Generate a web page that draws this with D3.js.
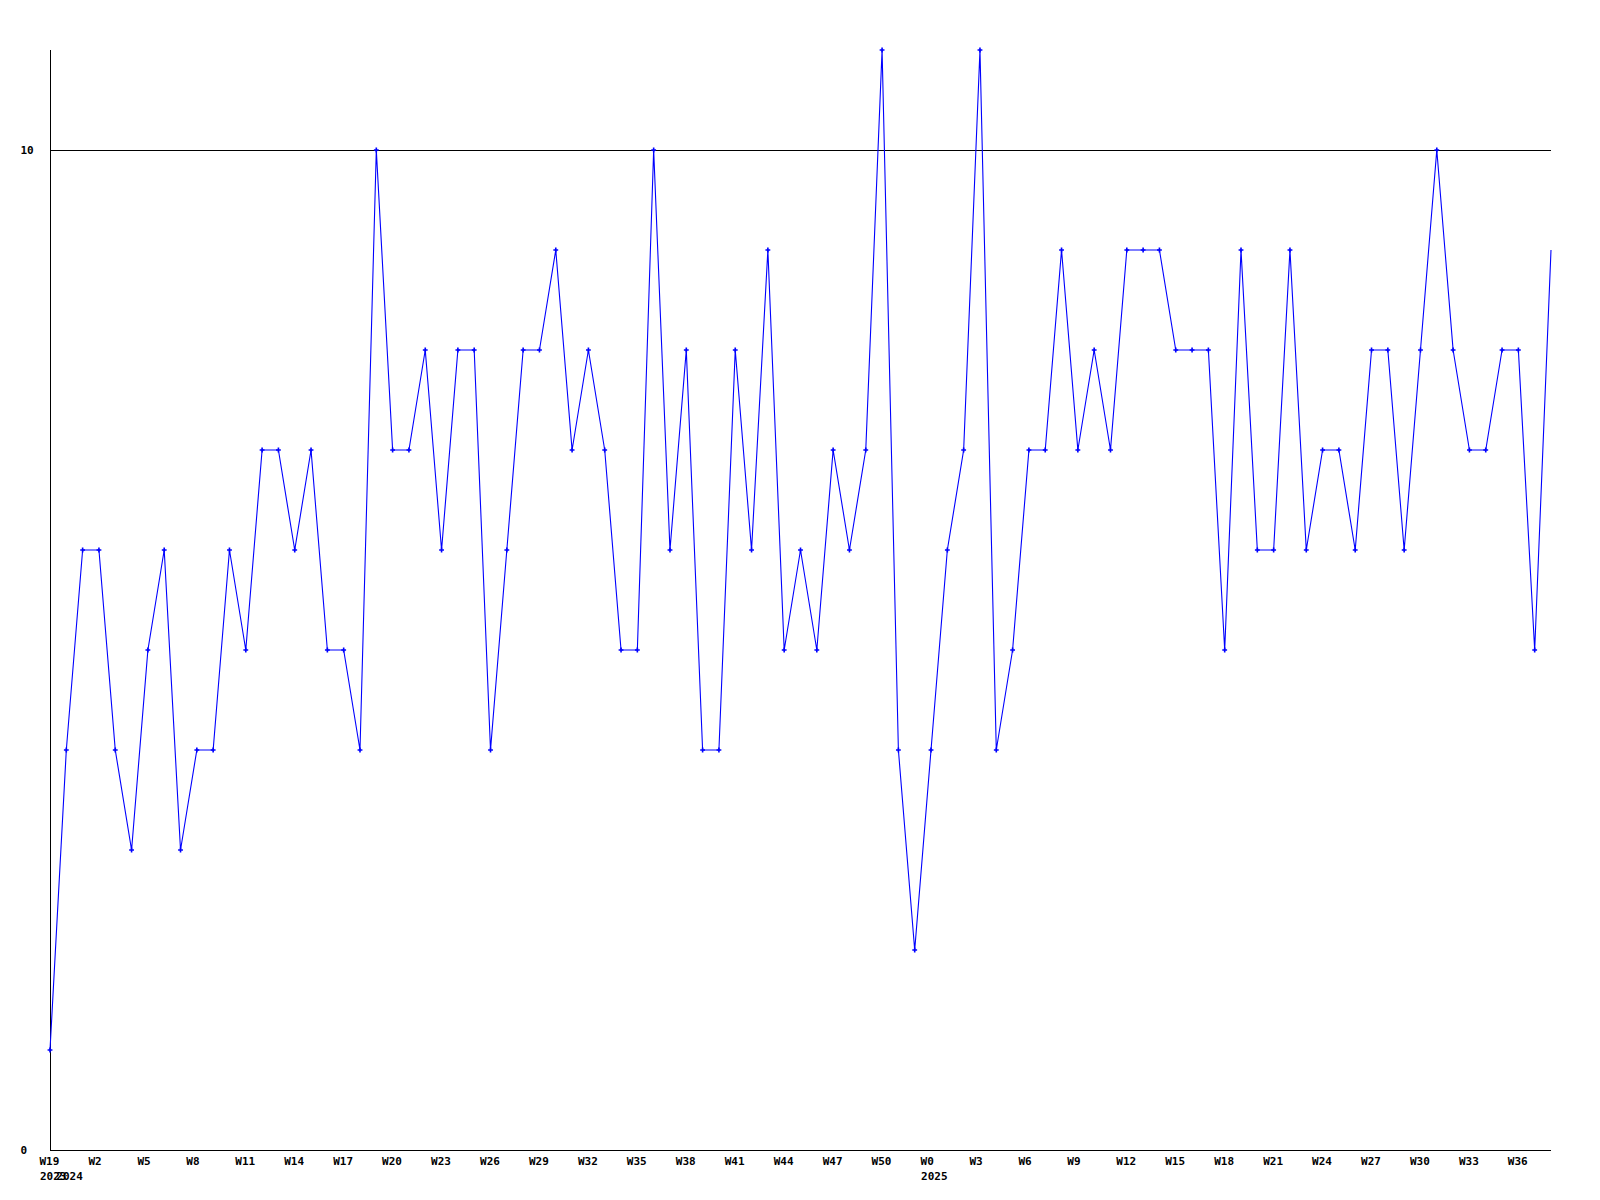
<!DOCTYPE html>
<html>
<head>
<meta charset="utf-8">
<script src="https://cdn.jsdelivr.net/npm/d3@7"></script>
<style>
  html, body { margin: 0; padding: 0; background: #fff; }
  svg { display: block; }
  text { font-family: "DejaVu Sans Mono", "Liberation Mono", monospace; font-weight: bold; font-size: 11px; fill: #000; }
</style>
</head>
<body>
<svg id="chart" width="1600" height="1200"></svg>
<script>
// ---- data ----
const values = [1, 4, 6, 6, 4, 3, 5, 6, 3, 4, 4, 6, 5, 7, 7, 6, 7, 5, 5, 4,
  10, 7, 7, 8, 6, 8, 8, 4, 6, 8, 8, 9, 7, 8, 7, 5, 5, 10, 6, 8,
  4, 4, 8, 6, 9, 5, 6, 5, 7, 6, 7, 11, 4, 2, 4, 6, 7, 11, 4, 5,
  7, 7, 9, 7, 8, 7, 9, 9, 9, 8, 8, 8, 5, 9, 6, 6, 9, 6, 7, 7,
  6, 8, 8, 6, 8, 10, 8, 7, 7, 8, 8, 5, 9];
const tickLabels = ["W19", "W2", "W5", "W8", "W11", "W14", "W17", "W20", "W23", "W26",
  "W29", "W32", "W35", "W38", "W41", "W44", "W47", "W50", "W0", "W3",
  "W6", "W9", "W12", "W15", "W18", "W21", "W24", "W27", "W30", "W33", "W36"];
const tickStep = 3;
const yearLabels = ["2023", "2024", "2025"];
const yearPositions = [0, 1, 54];
const yTicks = [0, 10];
const yMax = 11;

// ---- layout ----
const mLeft = 50, mRight = 1551, mTop = 50, mBottom = 1150;
const svg = d3.select("#chart");

const x = d3.scaleLinear().domain([0, values.length - 1]).range([mLeft, mRight]);
const y = d3.scaleLinear().domain([0, yMax]).range([mBottom, mTop]);

// reference line at 10
svg.append("g").selectAll("line.ref").data(yTicks.filter(d => d > 0)).join("line")
  .attr("x1", mLeft).attr("x2", mRight)
  .attr("y1", d => Math.round(y(d)) + 0.5).attr("y2", d => Math.round(y(d)) + 0.5)
  .attr("stroke", "#000").attr("stroke-width", 1).attr("shape-rendering", "crispEdges");

// y axis
const yAxis = d3.axisLeft(y).tickValues(yTicks).tickSize(0).tickFormat(d3.format("d"));
const gy = svg.append("g").attr("transform", `translate(${mLeft + 0.5},0)`).call(yAxis);
gy.attr("font-family", null).attr("font-size", null);
gy.select(".domain").attr("stroke", "#000").attr("shape-rendering", "crispEdges")
  .attr("d", `M0,${mTop}V${mBottom}`);
gy.selectAll(".tick text").attr("x", 20 - mLeft).attr("text-anchor", "start")
  .attr("dy", "0.35em");

// x axis
const tickIdx = tickLabels.map((_, i) => i * tickStep);
const xAxis = d3.axisBottom(x).tickValues(tickIdx).tickSize(0)
  .tickFormat((d, i) => tickLabels[i]);
const gx = svg.append("g").attr("transform", `translate(0,${mBottom + 0.5})`).call(xAxis);
gx.attr("font-family", null).attr("font-size", null);
gx.select(".domain").attr("stroke", "#000").attr("shape-rendering", "crispEdges")
  .attr("d", `M${mLeft},0H${mRight}`);
gx.selectAll(".tick text").attr("text-anchor", "start").attr("x", -11)
  .attr("y", 14.5).attr("dy", null);

// year labels
svg.append("g").selectAll("text.year").data(yearLabels).join("text")
  .attr("class", "year")
  .attr("x", (d, i) => x(yearPositions[i]) - 10)
  .attr("y", mBottom + 30)
  .text(d => d);

// line
const line = d3.line().x((d, i) => x(i)).y(d => y(d));
svg.append("path").datum(values)
  .attr("d", line)
  .attr("fill", "none").attr("stroke", "#0000ff").attr("stroke-width", 1.1);

// markers
const cross = d3.symbol().type(d3.symbolCross).size(13);
svg.append("g").selectAll("path.pt")
  .data(values.map((v, i) => ({ v, i })).filter(d => d.i < values.length - 1))
  .join("path")
  .attr("transform", d => `translate(${x(d.i)},${y(d.v)})`)
  .attr("d", cross)
  .attr("fill", "#0000ff");
</script>
</body>
</html>
